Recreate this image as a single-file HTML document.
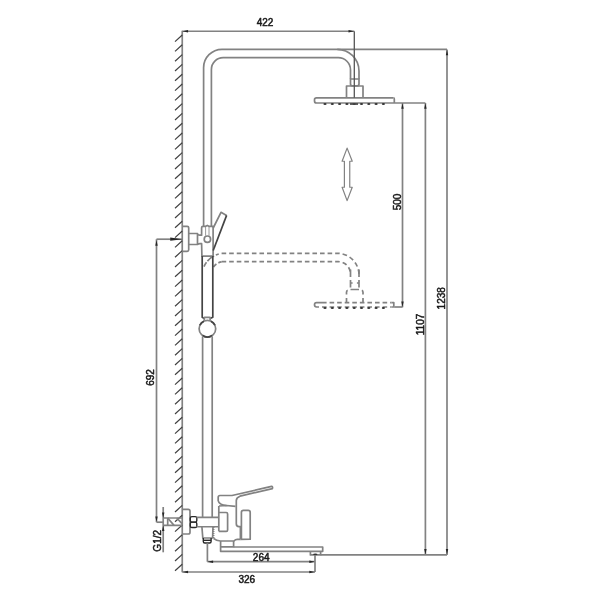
<!DOCTYPE html>
<html><head><meta charset="utf-8"><title>Shower system drawing</title>
<style>
html,body{margin:0;padding:0;background:#fff;width:600px;height:600px;overflow:hidden}
svg{display:block;filter:blur(0.5px)}
g.d{stroke:#828282;stroke-width:1.7;fill:none;stroke-linecap:butt;stroke-linejoin:round}
.h{stroke:#404040;stroke-width:1.2}
.thin{stroke-width:0.8}
.dk{stroke:#555;stroke-width:1.3}
.thk{stroke:#444;stroke-width:1.7}
.dot{stroke-dasharray:1 1}
.dash path{stroke-dasharray:4.6 2.97}
.ah{fill:#262626;stroke:none}
.fill{fill:#333;stroke:none}
.nut{stroke:#2a2a2a;stroke-width:1.4}
.da{stroke-width:1.2}
text{font-family:"Liberation Sans",sans-serif;fill:#1a1a1a;stroke:#1a1a1a;stroke-width:0.5}
</style></head>
<body>
<svg width="600" height="600" viewBox="0 0 600 600">
<rect x="0" y="0" width="600" height="600" fill="#fff"/>
<g class="d">
<line x1="182.25" y1="30.75" x2="182.25" y2="572.25"/>
<line x1="175.00" y1="41.60" x2="182.25" y2="35.00" class="h"/>
<line x1="175.00" y1="51.40" x2="182.25" y2="44.80" class="h"/>
<line x1="175.00" y1="61.20" x2="182.25" y2="54.60" class="h"/>
<line x1="175.00" y1="71.00" x2="182.25" y2="64.40" class="h"/>
<line x1="175.00" y1="80.80" x2="182.25" y2="74.20" class="h"/>
<line x1="175.00" y1="90.60" x2="182.25" y2="84.00" class="h"/>
<line x1="175.00" y1="100.40" x2="182.25" y2="93.80" class="h"/>
<line x1="175.00" y1="110.20" x2="182.25" y2="103.60" class="h"/>
<line x1="175.00" y1="120.00" x2="182.25" y2="113.40" class="h"/>
<line x1="175.00" y1="129.80" x2="182.25" y2="123.20" class="h"/>
<line x1="175.00" y1="139.60" x2="182.25" y2="133.00" class="h"/>
<line x1="175.00" y1="149.40" x2="182.25" y2="142.80" class="h"/>
<line x1="175.00" y1="159.20" x2="182.25" y2="152.60" class="h"/>
<line x1="175.00" y1="169.00" x2="182.25" y2="162.40" class="h"/>
<line x1="175.00" y1="178.80" x2="182.25" y2="172.20" class="h"/>
<line x1="175.00" y1="188.60" x2="182.25" y2="182.00" class="h"/>
<line x1="175.00" y1="198.40" x2="182.25" y2="191.80" class="h"/>
<line x1="175.00" y1="208.20" x2="182.25" y2="201.60" class="h"/>
<line x1="175.00" y1="218.00" x2="182.25" y2="211.40" class="h"/>
<line x1="175.00" y1="227.80" x2="182.25" y2="221.20" class="h"/>
<line x1="175.00" y1="237.60" x2="182.25" y2="231.00" class="h"/>
<line x1="175.00" y1="247.40" x2="182.25" y2="240.80" class="h"/>
<line x1="175.00" y1="257.20" x2="182.25" y2="250.60" class="h"/>
<line x1="175.00" y1="267.00" x2="182.25" y2="260.40" class="h"/>
<line x1="175.00" y1="276.80" x2="182.25" y2="270.20" class="h"/>
<line x1="175.00" y1="286.60" x2="182.25" y2="280.00" class="h"/>
<line x1="175.00" y1="296.40" x2="182.25" y2="289.80" class="h"/>
<line x1="175.00" y1="306.20" x2="182.25" y2="299.60" class="h"/>
<line x1="175.00" y1="316.00" x2="182.25" y2="309.40" class="h"/>
<line x1="175.00" y1="325.80" x2="182.25" y2="319.20" class="h"/>
<line x1="175.00" y1="335.60" x2="182.25" y2="329.00" class="h"/>
<line x1="175.00" y1="345.40" x2="182.25" y2="338.80" class="h"/>
<line x1="175.00" y1="355.20" x2="182.25" y2="348.60" class="h"/>
<line x1="175.00" y1="365.00" x2="182.25" y2="358.40" class="h"/>
<line x1="175.00" y1="374.80" x2="182.25" y2="368.20" class="h"/>
<line x1="175.00" y1="384.60" x2="182.25" y2="378.00" class="h"/>
<line x1="175.00" y1="394.40" x2="182.25" y2="387.80" class="h"/>
<line x1="175.00" y1="404.20" x2="182.25" y2="397.60" class="h"/>
<line x1="175.00" y1="414.00" x2="182.25" y2="407.40" class="h"/>
<line x1="175.00" y1="423.80" x2="182.25" y2="417.20" class="h"/>
<line x1="175.00" y1="433.60" x2="182.25" y2="427.00" class="h"/>
<line x1="175.00" y1="443.40" x2="182.25" y2="436.80" class="h"/>
<line x1="175.00" y1="453.20" x2="182.25" y2="446.60" class="h"/>
<line x1="175.00" y1="463.00" x2="182.25" y2="456.40" class="h"/>
<line x1="175.00" y1="472.80" x2="182.25" y2="466.20" class="h"/>
<line x1="175.00" y1="482.60" x2="182.25" y2="476.00" class="h"/>
<line x1="175.00" y1="492.40" x2="182.25" y2="485.80" class="h"/>
<line x1="175.00" y1="502.20" x2="182.25" y2="495.60" class="h"/>
<line x1="175.00" y1="512.00" x2="182.25" y2="505.40" class="h"/>
<line x1="175.00" y1="521.80" x2="182.25" y2="515.20" class="h"/>
<line x1="175.00" y1="531.60" x2="182.25" y2="525.00" class="h"/>
<line x1="175.00" y1="541.40" x2="182.25" y2="534.80" class="h"/>
<line x1="175.00" y1="551.20" x2="182.25" y2="544.60" class="h"/>
<line x1="175.00" y1="561.00" x2="182.25" y2="554.40" class="h"/>
<line x1="175.00" y1="570.80" x2="182.25" y2="564.20" class="h"/>
<path d="M203.6,226.2 L203.6,67.7 A18.4,18.4 0 0 1 222,49.3 L337.3,49.3 A21.7,21.7 0 0 1 359,71 L359,79"/>
<path d="M211.4,226.2 L211.4,69.5 A11.8,11.8 0 0 1 223.2,57.7 L338.3,57.7 A12.2,12.2 0 0 1 350.5,69.9 L350.5,79"/>
<line x1="337.30" y1="49.30" x2="447.00" y2="49.30"/>
<path d="M350.5,79 L359,79 L359,84 Q359,85.8 357.2,85.8 L352.3,85.8 Q350.5,85.8 350.5,84 Z"/>
<path d="M346.5,97.8 L346.5,86 L363,86 L363,97.8"/>
<path d="M393.5,97.8 L316.5,97.8 Q314.5,97.8 314.5,99.8 L314.5,101 Q314.5,103 316.5,103 L425.4,103"/>
<path d="M393.5,97.8 Q394.3,97.8 394.3,99 L394.3,103"/>
<ellipse cx="325.00" cy="104.0" rx="1.6" ry="0.9" class="fill"/>
<ellipse cx="332.30" cy="104.0" rx="1.6" ry="0.9" class="fill"/>
<ellipse cx="339.60" cy="104.0" rx="1.6" ry="0.9" class="fill"/>
<ellipse cx="346.90" cy="104.0" rx="1.6" ry="0.9" class="fill"/>
<ellipse cx="354.20" cy="104.0" rx="1.6" ry="0.9" class="fill"/>
<ellipse cx="361.50" cy="104.0" rx="1.6" ry="0.9" class="fill"/>
<ellipse cx="368.80" cy="104.0" rx="1.6" ry="0.9" class="fill"/>
<ellipse cx="376.10" cy="104.0" rx="1.6" ry="0.9" class="fill"/>
<ellipse cx="383.40" cy="104.0" rx="1.6" ry="0.9" class="fill"/>
<line x1="350.00" y1="104.00" x2="358.00" y2="104.00" class="thk"/>
<line x1="354.30" y1="31.25" x2="354.30" y2="97.80" class="dk"/>
<g class="dash">
<path d="M221.6,253.30 L337.3,253.30 A21.7,21.7 0 0 1 359,275.00"/>
<path d="M221.6,261.70 L338.3,261.70 A12.2,12.2 0 0 1 350.5,273.90"/>
<path d="M322,302.60 L391.5,302.60"/>
<path d="M322,307.00 L391.5,307.00"/>
</g>
<path d="M204,266.60 A22,22 0 0 1 221.6,253.45" style="stroke-dasharray:5 1.5 8.5 2 3 20"/>
<path d="M213.5,267.00 A11.5,11.5 0 0 1 221.6,261.95" style="stroke-dasharray:4.2 2.2 10"/>
<path d="M350.5,269.50 L350.5,289.50 M359,269.50 L359,289.50" style="stroke-dasharray:7.5 3"/>
<path d="M350.5,283.00 L352.6,283.00 M356.9,283.00 L359,283.00 M350.5,289.50 L359,289.50"/>
<path d="M346.5,302.60 L346.5,292.30 Q346.5,290.30 348.5,290.30 L350.5,290.30 M363,302.60 L363,292.30 Q363,290.30 361,290.30 L359,290.30" style="stroke-dasharray:4.5 3.5"/>
<path d="M322,302.60 L316.6,302.60 Q314.5,302.60 314.5,304.80 Q314.5,307.00 316.6,307.00 L319,307.00"/>
<path d="M391.5,302.60 L393.8,302.60 L393.8,307.00 L391.5,307.00"/>
<ellipse cx="325.00" cy="308.00" rx="1.6" ry="0.9" class="fill"/>
<ellipse cx="332.30" cy="308.00" rx="1.6" ry="0.9" class="fill"/>
<ellipse cx="339.60" cy="308.00" rx="1.6" ry="0.9" class="fill"/>
<ellipse cx="346.90" cy="308.00" rx="1.6" ry="0.9" class="fill"/>
<ellipse cx="354.20" cy="308.00" rx="1.6" ry="0.9" class="fill"/>
<ellipse cx="361.50" cy="308.00" rx="1.6" ry="0.9" class="fill"/>
<ellipse cx="368.80" cy="308.00" rx="1.6" ry="0.9" class="fill"/>
<ellipse cx="376.10" cy="308.00" rx="1.6" ry="0.9" class="fill"/>
<ellipse cx="383.40" cy="308.00" rx="1.6" ry="0.9" class="fill"/>
<line x1="394.30" y1="307.00" x2="402.50" y2="307.00"/>
<path d="M347.1,148.1 L352.25,161.25 L349.75,161.25 L349.75,187.25 L352.25,187.25 L347.1,200.6 L342.1,187.25 L344.4,187.25 L344.4,161.25 L342.1,161.25 Z" class="da"/>
<path d="M182.25,226.3 L187.2,226.3 Q188.7,226.3 188.7,227.8 L188.7,249.8 Q188.7,251.3 187.2,251.3 L182.25,251.3"/>
<path d="M188.3,233.5 L197.5,233.5 L197.5,244.5 L188.3,244.5"/>
<path d="M197.5,234.3 Q198.5,235.2 200,235.2 L201.6,235.2 L201.6,227.8 Q201.6,226.4 203,226.4 L205.2,226.4 L207.3,225.4 L209.4,226.4 L213.1,226.4 L213.1,256.1 L201.9,256.1 L201.6,243.6 L200,243.6 Q198.5,243.6 197.5,244.2"/>
<circle cx="207.4" cy="239.2" r="3.2" />
<line x1="205.60" y1="226.80" x2="205.60" y2="235.60" class="thin"/>
<line x1="209.00" y1="226.80" x2="209.00" y2="235.60" class="thin"/>
<path d="M213.2,228 L221,212.3 L226.6,215.4"/>
<path d="M226.6,215.4 L213.2,250.5" class="thk"/>
<path d="M202.2,256.1 L202.2,317.3 L204.3,318.5" class="thk"/>
<path d="M212.8,256.1 L212.8,317.3 L210.1,318.5" class="thk"/>
<path d="M204.3,320.8 L204.3,317.6 Q204.3,317.3 204.6,317.3 L209.8,317.3 Q210.1,317.3 210.1,317.6 L210.1,320.8"/>
<circle cx="207.4" cy="328.7" r="8.3" />
<path d="M199.88,325.19 A8.3,8.3 0 0 1 203.89,321.18 M210.91,321.18 A8.3,8.3 0 0 1 214.92,325.19 M212.16,335.50 A8.3,8.3 0 0 1 202.64,335.50" class="thk"/>
<line x1="202.60" y1="336.40" x2="202.60" y2="517.40"/>
<line x1="212.20" y1="336.40" x2="212.20" y2="517.40"/>
<path d="M182.25,509.3 L188.2,509.3 Q190,509.3 190,511.1 L190,532.2 Q190,534 188.2,534 L182.25,534"/>
<rect x="190.3" y="516.6" width="6.5" height="5.5" rx="1.6" class="nut"/>
<rect x="190.3" y="522.1" width="6.5" height="5.4" rx="1.6" class="nut"/>
<path d="M196.5,517.4 L218.6,517.4 M196.5,526.75 L218.6,526.75"/>
<path d="M201.9,526.75 L202.8,538 L212.6,538 L213,526.75"/>
<line x1="213.60" y1="527.00" x2="213.60" y2="538.00" class="dot"/>
<path d="M203.3,538 L203.3,541.5 Q203.3,543 204.8,543 L209.6,543 Q211.1,543 211.1,541.5 L211.1,538" class="nut"/>
<line x1="203.30" y1="540.30" x2="211.10" y2="540.30" class="nut"/>
<path d="M218.8,512.5 L226.2,512.5 Q227.6,512.5 227.6,513.9 L227.6,529.9 Q227.6,531.3 226.2,531.3 L218.8,531.3"/>
<line x1="218.80" y1="506.00" x2="218.80" y2="531.30"/>
<path d="M219,506 L226.5,505.5 L235.5,506.35"/>
<path d="M218.2,501 L218.2,497.3 Q218.2,495.5 220,495.5 L232,495.5 L271.5,486.4 Q273,486.5 272.4,488.6 L240,496.2 Q236.3,497.6 236.3,500.5 L236.3,523.8 Q236.3,526.7 239,526.7 L240.4,526.7 L240.4,539.3"/>
<path d="M218.2,501 Q219.5,504.8 226.5,505.5"/>
<path d="M241.4,539.2 L241.4,512.4 Q241.4,510.4 243.4,510.4 L248.2,510.4 Q250.2,510.4 250.2,512.4 L250.2,539.2 L240.4,539.3"/>
<path d="M213.5,538.4 Q216.5,541 220.5,541 L233.9,541 Q235.5,539.3 237.3,539.3 L240.4,539.3"/>
<path d="M220.6,541 L220.6,551.3 L322.7,551.3 L322.7,547 L233.6,547"/>
<path d="M220.6,546.8 L233.6,546.8 L233.6,541"/>
<path d="M310.4,551.3 L310.4,554.9 L320.6,554.9 L320.6,551.3"/>
<ellipse cx="315.3" cy="554.3" rx="2.2" ry="0.9" class="fill"/>
<path d="M163.3,518 L182.25,518 M163.3,525.4 L182.25,525.4"/>
<line x1="167.70" y1="518.00" x2="167.70" y2="525.40"/>
<line x1="167.70" y1="518.00" x2="174.00" y2="525.40"/>
<line x1="176.80" y1="518.00" x2="182.00" y2="523.60"/>
<line x1="182.25" y1="31.25" x2="354.30" y2="31.25"/>
<polygon points="182.55,31.25 188.05,30.05 188.05,32.45" class="ah"/>
<polygon points="354.00,31.25 348.50,30.05 348.50,32.45" class="ah"/>
<text x="265.00" y="25.80" text-anchor="middle" font-size="10">422</text>
<line x1="447.00" y1="49.50" x2="447.00" y2="554.90"/>
<polygon points="447.00,49.80 445.80,55.30 448.20,55.30" class="ah"/>
<polygon points="447.00,554.60 445.80,549.10 448.20,549.10" class="ah"/>
<line x1="402.50" y1="103.00" x2="402.50" y2="307.30"/>
<polygon points="402.50,103.30 401.30,108.80 403.70,108.80" class="ah"/>
<polygon points="402.50,307.00 401.30,301.50 403.70,301.50" class="ah"/>
<line x1="425.40" y1="103.00" x2="425.40" y2="554.90"/>
<polygon points="425.40,103.30 424.20,108.80 426.60,108.80" class="ah"/>
<polygon points="425.40,554.60 424.20,549.10 426.60,549.10" class="ah"/>
<line x1="320.60" y1="554.90" x2="447.00" y2="554.90"/>
<text x="0" y="0" transform="translate(400.70,202.00) rotate(-90)" text-anchor="middle" font-size="10">500</text>
<text x="0" y="0" transform="translate(423.60,324.50) rotate(-90)" text-anchor="middle" font-size="10">1107</text>
<text x="0" y="0" transform="translate(444.60,298.30) rotate(-90)" text-anchor="middle" font-size="10">1238</text>
<line x1="156.50" y1="239.20" x2="182.25" y2="239.20"/>
<polygon points="182.25,239.20 170.25,237.60 170.25,240.80" class="ah"/>
<line x1="156.50" y1="239.20" x2="156.50" y2="522.20"/>
<polygon points="156.50,240.20 155.30,245.70 157.70,245.70" class="ah"/>
<polygon points="156.50,521.90 155.30,516.40 157.70,516.40" class="ah"/>
<line x1="156.50" y1="522.20" x2="163.30" y2="522.20"/>
<text x="0" y="0" transform="translate(154.00,377.50) rotate(-90)" text-anchor="middle" font-size="10">692</text>
<line x1="163.20" y1="507.00" x2="163.20" y2="552.30"/>
<polygon points="163.20,518.00 162.00,512.50 164.40,512.50" class="ah"/>
<polygon points="163.20,525.40 162.00,530.90 164.40,530.90" class="ah"/>
<text x="0" y="0" transform="translate(161.00,540.80) rotate(-90)" text-anchor="middle" font-size="10">G1/2</text>
<line x1="207.40" y1="543.00" x2="207.40" y2="561.70"/>
<line x1="207.40" y1="561.70" x2="315.00" y2="561.70"/>
<polygon points="207.60,561.70 213.10,560.50 213.10,562.90" class="ah"/>
<polygon points="314.80,561.70 309.30,560.50 309.30,562.90" class="ah"/>
<text x="261.20" y="560.50" text-anchor="middle" font-size="10">264</text>
<line x1="315.00" y1="554.90" x2="315.00" y2="572.00"/>
<line x1="182.25" y1="572.00" x2="315.00" y2="572.00"/>
<polygon points="182.55,572.00 188.05,570.80 188.05,573.20" class="ah"/>
<polygon points="314.80,572.00 309.30,570.80 309.30,573.20" class="ah"/>
<text x="246.80" y="582.90" text-anchor="middle" font-size="10">326</text>
</g>
</svg>
</body></html>
